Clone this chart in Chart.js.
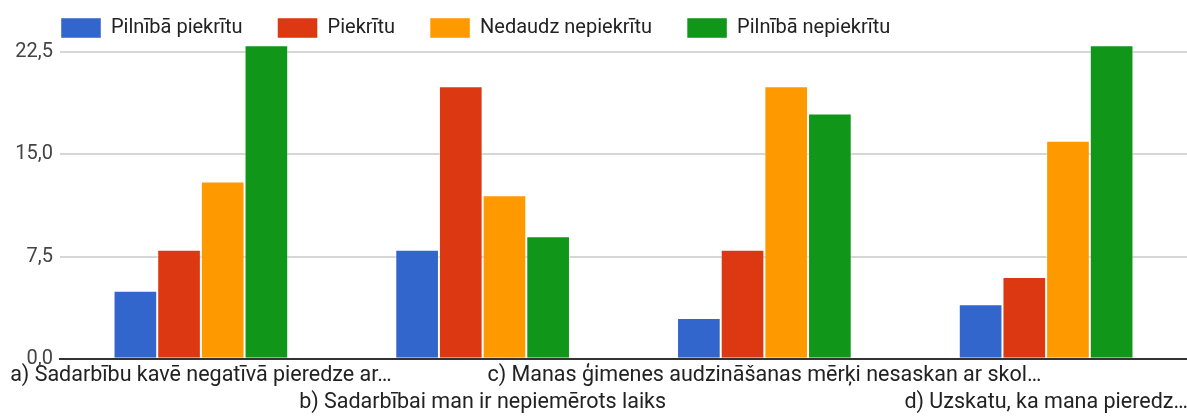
<!DOCTYPE html>
<html>
<head>
<meta charset="utf-8">
<script src="https://cdn.jsdelivr.net/npm/chart.js@4/dist/chart.umd.min.js"></script>
<style>
  html, body { margin: 0; padding: 0; background: #fff; }
  #wrap { width: 1187px; height: 417px; position: relative; }
</style>
</head>
<body>
<div id="wrap"><canvas id="grafico"></canvas></div>
<script>
// dados
const categorias = [
    ['a) Sadarbību kavē negatīvā pieredze ar…', ''],
    ['', 'b) Sadarbībai man ir nepiemērots laiks'],
    ['c) Manas ģimenes audzināšanas mērķi nesaskan ar skol…', ''],
    ['', 'd) Uzskatu, ka mana pieredz…']
];
const serieNomes = ['Pilnībā piekrītu', 'Piekrītu', 'Nedaudz nepiekrītu', 'Pilnībā nepiekrītu'];
const pilnibaPiekritu = [5, 8, 3, 4];
const piekritu = [8, 20, 8, 6];
const nedaudzNepiekritu = [13, 12, 20, 16];
const pilnibaNepiekritu = [23, 9, 18, 23];
const yTicks = [0, 7.5, 15, 22.5];

const cores = ['#3366cc', '#dc3912', '#ff9900', '#109618'];
const valores = [pilnibaPiekritu, piekritu, nedaudzNepiekritu, pilnibaNepiekritu];

const fonte = 'Roboto, "Open Sans", Arial, sans-serif';

// empurra a legenda para a direita sem mexer no eixo Y
const legendaOffset = {
    id: 'legendaOffset',
    afterLayout(chart) {
        if (chart.legend) chart.legend.left += 26;
    }
};

const ctx = document.getElementById('grafico').getContext('2d');
new Chart(ctx, {
    type: 'bar',
    data: {
        labels: categorias,
        datasets: serieNomes.map((nome, i) => ({
            label: nome,
            data: valores[i],
            backgroundColor: cores[i],
            borderColor: 'rgba(255,255,255,0.45)',
            borderWidth: 1,
            categoryPercentage: 0.62,
            barPercentage: 1.0,
            clip: false
        }))
    },
    plugins: [legendaOffset],
    options: {
        responsive: true,
        maintainAspectRatio: false,
        animation: false,
        layout: { padding: { top: -17, left: 0, right: 0, bottom: -2 } },
        plugins: {
            legend: {
                position: 'top',
                align: 'start',
                labels: {
                    boxWidth: 40,
                    boxHeight: 20,
                    padding: 35,
                    color: '#222',
                    font: { family: fonte, size: 20 }
                }
            },
            tooltip: { enabled: false }
        },
        scales: {
            x: {
                grid: { display: false, drawTicks: false },
                border: { display: true, color: '#333', width: 2 },
                ticks: {
                    color: '#222',
                    font: { family: fonte, size: 21.5, lineHeight: 1.26 },
                    autoSkip: false,
                    maxRotation: 0,
                    minRotation: 0,
                    padding: 3
                },
                afterFit: function(scale) {
                    scale.paddingLeft = 0;
                    scale.paddingRight = 0;
                }
            },
            y: {
                min: 0,
                max: 22.8,
                border: { display: false },
                grid: {
                    color: (c) => c.tick && c.tick.value === 0 ? '#333' : '#d6d6d6',
                    lineWidth: 2,
                    drawTicks: false
                },
                afterBuildTicks: function(axis) {
                    axis.ticks = yTicks.map(v => ({ value: v }));
                },
                afterFit: function(scale) {
                    scale.width = 60;
                },
                ticks: {
                    color: '#444',
                    padding: 7,
                    font: { family: fonte, size: 20 },
                    callback: function(value) {
                        return Number(value).toFixed(1).replace('.', ',');
                    }
                }
            }
        }
    }
});
</script>
</body>
</html>
